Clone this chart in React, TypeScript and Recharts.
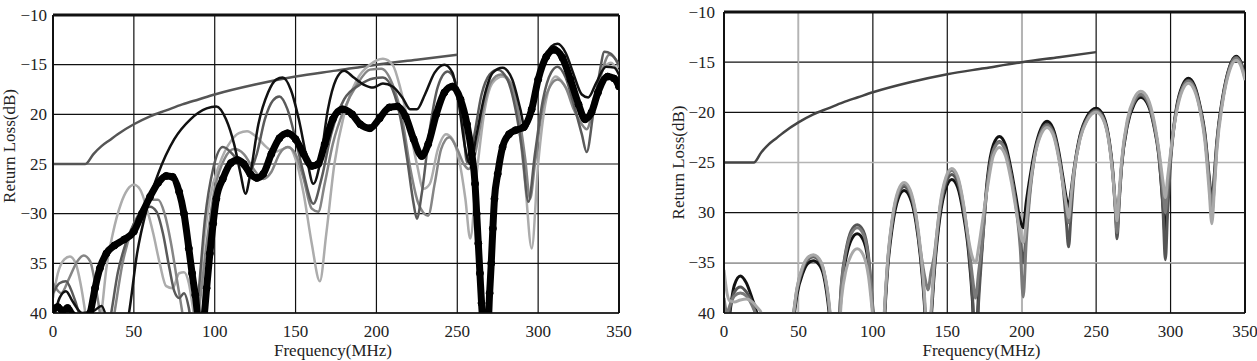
import { LineChart, Line, XAxis, YAxis, CartesianGrid, ReferenceLine, Label } from 'recharts';

type Pt = [number, number];

const freqTicks = [0, 50, 100, 150, 200, 250, 300, 350];
const lossTicks = [-40, -35, -30, -25, -20, -15, -10];
const leftLossLabels = ['40', '35', '−30', '25', '20', '−15', '−10'];
const rightLossLabels = ['40', '−35', '30', '−25', '−20', '−15', '−10'];

// limit line, same in both panels
const limitLine: Pt[] = [
  [0, -25], [20, -25], [25, -24], [30, -23.2], [35, -22.6], [40, -22], [50, -21], [60, -20.2],
  [70, -19.6], [80, -19], [90, -18.5], [100, -18], [125, -17], [150, -16.2], [175, -15.6],
  [200, -15], [225, -14.5], [250, -14],
];

// left panel
const leftThick: Pt[] = [
  [0, -39.6], [3, -39.4], [6, -39.8], [9, -39.5], [12, -40.2], [16, -41], [20, -41], [23, -40],
  [26, -37.5], [29, -35.5], [33, -34], [38, -33.2], [44, -32.6], [50, -31.8], [55, -30], [60, -28.3],
  [65, -26.9], [70, -26.2], [74, -26.3], [78, -27.8], [81, -30], [84, -33.5], [86, -36], [88, -38.2],
  [90, -40.5], [93, -40.5], [95, -37.5], [97, -34], [99, -31], [101, -28.5], [105, -26.5], [110, -24.9],
  [114, -24.6], [118, -25], [122, -26], [126, -26.4], [130, -26], [135, -24], [140, -22.4], [145, -21.9],
  [150, -22.5], [155, -24], [160, -25.2], [164, -25], [168, -23], [173, -20.5], [179, -19.5], [185, -20],
  [190, -21], [196, -21.4], [202, -20.4], [208, -19.3], [213, -19.2], [218, -20.2], [223, -22.5], [228, -24.2],
  [232, -23], [237, -20], [242, -17.8], [247, -17.2], [252, -18.5], [256, -21], [259, -24], [261, -27],
  [262, -30], [263, -33], [264, -36], [265, -39], [266, -41], [269, -41], [270, -38], [271, -35],
  [272, -31.5], [273, -28.5], [275, -26], [278, -23.3], [282, -22], [286, -21.6], [291, -21.3], [296, -19.5],
  [300, -16.5], [305, -14.2], [310, -13.5], [315, -14.3], [320, -16.5], [325, -19], [329, -20.5], [333, -19.8],
  [337, -17.8], [343, -16.2], [347, -16.4], [350, -17.2],
];

const leftBlack: Pt[] = [
  [0, -41], [4, -38.5], [8, -37.8], [12, -38.8], [18, -40], [25, -39.8], [30, -39.3], [34, -41],
  [40, -45], [47, -40], [52, -34], [58, -29.5], [65, -26], [75, -22.5], [85, -20.5], [95, -19.4],
  [101, -19.2], [107, -20.5], [112, -23], [116, -26], [119, -28], [122, -26], [127, -21], [133, -17.8],
  [138, -16.5], [142, -16.3], [147, -17.5], [152, -20.5], [157, -24.5], [161, -27], [165, -25], [170, -19.5],
  [175, -16.5], [180, -15.6], [186, -16.3], [192, -17], [198, -17.3], [204, -16.9], [210, -17.2], [216, -18.3],
  [221, -19.5], [225, -19.5], [230, -18], [236, -15.8], [242, -15], [247, -15.8], [251, -19], [255, -23.5],
  [258, -25], [262, -22], [267, -18], [272, -15.8], [278, -15.3], [284, -16.5], [289, -19.5], [292, -21.5],
  [297, -19], [303, -15], [308, -13.2], [312, -12.9], [317, -13.8], [322, -16], [327, -18], [331, -18.3],
  [336, -16.8], [342, -15.2], [347, -15.3], [350, -16],
];

const leftDark: Pt[] = [
  [0, -38], [4, -37], [8, -36.8], [12, -38], [16, -40], [20, -43], [28, -46], [36, -40], [40, -36],
  [45, -33], [50, -31], [55, -29.8], [60, -29.3], [64, -29.8], [68, -32], [72, -35.5], [75, -37.8],
  [78, -38.5], [81, -38], [84, -39.5], [87, -43], [90, -38], [94, -30.5], [99, -25.5], [105, -23.3],
  [111, -24], [116, -25], [121, -25.8], [126, -24], [131, -20.5], [136, -18.6], [140, -18.2], [145, -19.5],
  [150, -22.5], [155, -26], [161, -29], [166, -26.5], [172, -22], [180, -18.5], [190, -17], [198, -16.4],
  [204, -16.3], [210, -17.5], [215, -20.5], [219, -24.5], [223, -29], [225, -30.5], [228, -28], [233, -21.5],
  [238, -17.2], [244, -15.7], [249, -16.8], [253, -20], [256, -24.8], [260, -22.5], [265, -18], [270, -16],
  [275, -15.5], [281, -16.5], [286, -19.5], [290, -23.5], [294, -28.8], [298, -24], [303, -18.5], [308, -15.8],
  [312, -15.2], [317, -16.3], [322, -19], [327, -22], [330, -23.8], [334, -20], [338, -15.8], [341, -13.7],
  [345, -13.9], [350, -15],
];

const leftMid: Pt[] = [
  [0, -37], [5, -38], [10, -36.5], [15, -34.8], [19, -34.2], [23, -34.8], [26, -37], [29, -40], [33, -45],
  [38, -40], [43, -35], [49, -31.5], [55, -29.5], [61, -28.6], [65, -28.6], [69, -30], [73, -33], [77, -37],
  [80, -40], [84, -45], [90, -40], [95, -33], [100, -27.5], [106, -24.5], [112, -23.5], [118, -24],
  [124, -25.5], [130, -26.5], [135, -25.8], [140, -24], [145, -23.3], [150, -24], [155, -26.5], [160, -29.5],
  [164, -29.8], [168, -27], [173, -23], [180, -19.5], [188, -17], [196, -15.5], [203, -15.4], [210, -17],
  [216, -20.5], [221, -25.5], [226, -29], [232, -30.2], [236, -27], [240, -23.5], [245, -22.3], [250, -23.5],
  [254, -25], [257, -25.5], [261, -24], [266, -19.5], [271, -16.7], [277, -16], [283, -16.8], [288, -20],
  [292, -24.5], [295, -28.5], [298, -25], [302, -20], [307, -17.3], [312, -16.5], [317, -17.3], [322, -19.5],
  [327, -21], [330, -21.5], [334, -19.5], [339, -16], [344, -14], [348, -14.5], [350, -15.3],
];

const leftLight: Pt[] = [
  [0, -38.5], [3, -36], [7, -34.6], [10.5, -34.3], [14, -35], [17, -37], [20, -40], [24, -45], [30, -40],
  [33, -35.5], [37, -32], [42, -29], [46, -27.6], [50, -27.1], [54, -27.6], [58, -29.5], [62, -32],
  [66, -35], [70, -37.3], [74, -37.5], [78, -36], [81, -35.9], [84, -37], [87, -40], [89, -42], [92, -35],
  [97, -28.5], [103, -25], [110, -22.7], [115, -21.9], [120, -21.7], [126, -22.3], [132, -23.3], [137, -23.8],
  [142, -23.5], [146, -23.3], [150, -24.5], [155, -28], [160, -33], [165, -36.8], [169, -32], [174, -25],
  [180, -20], [188, -16.5], [196, -15], [204, -14.4], [210, -15], [215, -17.5], [220, -21], [225, -25],
  [229, -27.5], [233, -27], [238, -23.5], [243, -22], [247, -22.5], [251, -24.5], [255, -28.5], [258, -32.5],
  [262, -26], [267, -19.5], [272, -16.8], [278, -16.2], [284, -17.5], [288, -21], [292, -27], [296, -33.5],
  [300, -25], [305, -18.5], [311, -16.2], [316, -17], [321, -18.5], [326, -20], [330, -20.5], [335, -18],
  [340, -15.5], [345, -14.8], [350, -15.8],
];

// right panel, one frequency grid shared by the four traces
const rightFreq = [
  0, 2, 4, 7, 11, 15, 19, 22, 25, 29,
  46, 49, 53, 56, 60, 64, 67, 71, 74,
  76, 79, 82, 85.5, 89.5, 93.5, 97, 100, 103, 105,
  107, 110, 113, 117, 121, 125, 129, 132, 135, 137,
  139, 141, 145, 149, 153, 157, 161, 164, 167, 169,
  171, 173, 177, 181, 185, 189, 193, 196, 199, 201,
  203, 205, 209, 213, 217, 221, 225, 227.5, 230, 231.5,
  233, 235, 239, 244, 250, 255, 259, 261, 263, 264,
  265.5, 267, 271, 275.5, 280, 285, 289, 292, 295, 296.5,
  298, 300, 304, 308, 312, 316, 320, 323, 326, 327.7,
  329.5, 331, 335, 339.5, 344, 347, 350,
];

const rightBlack = [
  -41, -43, -40, -37.2, -36.3, -37, -38.6, -40, -43, -50,
  -41.5, -38.2, -36, -35.1, -34.8, -35.2, -36.3, -40.5, -46,
  -45, -37.5, -34.5, -32.7, -32.1, -32.7, -35, -40, -46, -50,
  -43, -35.5, -31.5, -28.6, -27.8, -28.5, -31, -34.5, -40, -46,
  -41, -36.5, -30.5, -27.6, -26.7, -27.5, -30.3, -33.5, -39, -45,
  -38, -34, -26.5, -23.2, -22.4, -23.2, -25.8, -28.3, -30.8, -31.5,
  -29, -27, -23.6, -21.6, -20.9, -21.6, -24, -26.3, -28.6, -29.5,
  -28, -25.8, -22.4, -20.4, -19.6, -20.4, -23, -25.5, -29.5, -31.6,
  -28.5, -25.5, -21.3, -19.2, -18.5, -19.3, -21.5, -24.2, -29.5, -32.5,
  -28.5, -24.5, -19.5, -17.3, -16.6, -17.3, -19.5, -22, -26.5, -28.8,
  -26, -23, -18.5, -15.5, -14.4, -14.9, -16.4,
];

const rightDark = [
  -39, -41, -39.5, -37.9, -37.4, -37.9, -39, -40.5, -43, -50,
  -41, -37.8, -35.6, -34.7, -34.4, -34.8, -35.9, -40, -46,
  -44, -36.8, -33.7, -31.8, -31.2, -31.8, -34.2, -39.5, -46, -50,
  -42.5, -35, -31, -28.2, -27.4, -28.1, -30.6, -34, -39.5, -45,
  -40.5, -36, -30, -27.1, -26.2, -27, -29.8, -33, -38.5, -45,
  -39, -34.5, -27, -23.7, -22.9, -23.7, -26.3, -29, -32.5, -35,
  -32, -28.5, -24, -21.9, -21.2, -21.9, -24.4, -27, -31, -33.4,
  -30.5, -26.5, -22.6, -20.6, -19.8, -20.6, -23.2, -25.8, -30, -32.6,
  -29, -25.6, -21.1, -19, -18.3, -19.1, -21.3, -24, -30, -34.7,
  -30, -25, -19.7, -17.5, -16.8, -17.5, -19.7, -22.3, -27, -30,
  -27, -23.5, -18.7, -15.6, -14.5, -15, -16.5,
];

const rightGrey = [
  -38.5, -40, -39.2, -38.3, -38, -38.3, -39.3, -40.5, -43, -50,
  -40.8, -37.6, -35.4, -34.6, -34.3, -34.7, -35.8, -39.8, -46,
  -44, -37, -33.9, -32.1, -31.5, -32.1, -34.5, -39.7, -46, -50,
  -42.5, -34.8, -30.8, -28, -27.2, -27.9, -30.4, -33.8, -36.5, -37.7,
  -36, -34.5, -29.6, -26.7, -25.8, -26.6, -29.4, -32.6, -36.5, -38.5,
  -36, -33.5, -27.1, -23.8, -23, -23.8, -26.4, -29.2, -33.5, -38.4,
  -33, -29, -24.1, -22, -21.3, -22, -24.5, -26.8, -29.5, -31,
  -29, -26.2, -22.7, -20.7, -19.9, -20.7, -23.3, -25.9, -29.8, -32,
  -28.7, -25.4, -21, -18.9, -18.2, -19, -21.2, -23.9, -28, -30,
  -27.5, -24.3, -19.8, -17.6, -16.9, -17.6, -19.8, -22.4, -27, -29.5,
  -26.5, -23.3, -18.8, -15.7, -14.6, -15.1, -16.6,
];

const rightLight = [
  -35.7, -38, -38.8, -38.9, -38.7, -38.6, -38.9, -39.4, -40, -45,
  -40.6, -37.5, -35.3, -34.5, -34.2, -34.6, -35.7, -39.6, -46,
  -45, -38.5, -35.7, -34.2, -33.6, -34.2, -36.3, -40.5, -46, -50,
  -42, -34.6, -30.6, -27.8, -27, -27.7, -30.2, -33.6, -39, -45,
  -40, -35.5, -29.4, -26.5, -25.6, -26.4, -29.2, -32.4, -34.5, -35,
  -33.5, -31.5, -27.5, -24.3, -23.5, -24.3, -26.9, -29.5, -32, -33,
  -31, -28, -24.2, -22.2, -21.5, -22.2, -24.7, -27, -29.3, -30.5,
  -28.5, -26, -22.8, -20.8, -20, -20.8, -23.4, -26, -29.3, -30.8,
  -28, -25, -20.7, -18.6, -17.9, -18.7, -20.9, -23.6, -27, -28.5,
  -26.5, -24, -20, -17.8, -17.1, -17.8, -20, -22.8, -28, -31.1,
  -27.5, -24, -19, -15.9, -14.8, -15.3, -16.8,
];

const FONT = "'Liberation Serif', 'Times New Roman', serif";

const toRows = (pts: Pt[]) => pts.map(([f, v]) => ({ f, v }));

const rightRows = rightFreq.map((f, i) => ({
  f,
  black: rightBlack[i],
  dark: rightDark[i],
  grey: rightGrey[i],
  light: rightLight[i],
}));

function YTick({ x, y, payload, labels }: any) {
  const idx = lossTicks.indexOf(payload.value);
  return (
    <text x={x} y={y} textAnchor="end" dominantBaseline="central" fontFamily={FONT} fontSize={17} fill="#222">
      {labels[idx]}
    </text>
  );
}

function XTick({ x, y, payload }: any) {
  return (
    <text x={x} y={y} dy="0.71em" textAnchor="middle" fontFamily={FONT} fontSize={17} fill="#222">
      {payload.value}
    </text>
  );
}

function YTitle({ viewBox, dx, dy }: any) {
  const cx = viewBox.x + dx;
  const cy = viewBox.y + viewBox.height / 2 + dy;
  return (
    <text x={cx} y={cy} transform={`rotate(-90 ${cx} ${cy})`} textAnchor="middle" dominantBaseline="central"
      fontFamily={FONT} fontSize={17} fill="#222">
      Return Loss(dB)
    </text>
  );
}

function XTitle({ viewBox }: any) {
  return (
    <text x={viewBox.x + viewBox.width / 2 - 3} y={viewBox.y + 37} textAnchor="middle" dominantBaseline="central"
      fontFamily={FONT} fontSize={17} fill="#222">
      Frequency(MHz)
    </text>
  );
}

export default function App() {
  return (
    <div style={{ position: 'absolute', left: 0, top: 0, width: 1257, height: 361, background: '#fff' }}>
      <div style={{ position: 'absolute', left: 0, top: 0 }}>
        <LineChart width={632} height={361} margin={{ top: 15, right: 13, bottom: 0, left: 0 }}>
          <CartesianGrid stroke="#111" strokeWidth={1.2} />
          <XAxis type="number" dataKey="f" domain={[0, 350]} ticks={freqTicks} allowDataOverflow
            height={48} tickSize={0} tickMargin={12} tick={<XTick />} axisLine={{ stroke: '#111', strokeWidth: 1.5 }}>
            <Label content={(p: any) => <XTitle {...p} />} />
          </XAxis>
          <YAxis type="number" domain={[-40, -10]} ticks={lossTicks} allowDataOverflow width={53}
            tickSize={0} tickMargin={6} tick={<YTick labels={leftLossLabels} />} axisLine={{ stroke: '#111', strokeWidth: 2 }}>
            <Label content={(p: any) => <YTitle {...p} dx={9} dy={-18} />} />
          </YAxis>
          <ReferenceLine y={-10} stroke="#111" strokeWidth={3} />
          <ReferenceLine x={350} stroke="#111" strokeWidth={2} />
          <Line data={toRows(limitLine)} dataKey="v" type="monotone" stroke="#555" strokeWidth={2.5} dot={false} isAnimationActive={false} />
          <Line data={toRows(leftLight)} dataKey="v" type="monotone" stroke="#acacac" strokeWidth={2.5} dot={false} isAnimationActive={false} />
          <Line data={toRows(leftMid)} dataKey="v" type="monotone" stroke="#858585" strokeWidth={2.5} dot={false} isAnimationActive={false} />
          <Line data={toRows(leftDark)} dataKey="v" type="monotone" stroke="#5a5a5a" strokeWidth={2.5} dot={false} isAnimationActive={false} />
          <Line data={toRows(leftBlack)} dataKey="v" type="monotone" stroke="#111" strokeWidth={2.5} dot={false} isAnimationActive={false} />
          <Line data={toRows(leftThick)} dataKey="v" type="monotone" stroke="#000" strokeWidth={7}
            dot={{ r: 3.5, fill: '#000', stroke: '#000', strokeWidth: 1 }} isAnimationActive={false} />
        </LineChart>
      </div>
      <div style={{ position: 'absolute', left: 640, top: 0 }}>
        <LineChart width={617} height={361} margin={{ top: 12, right: 12, bottom: 0, left: 0 }}>
          <CartesianGrid stroke="#111" strokeWidth={1.2} />
          <XAxis type="number" dataKey="f" domain={[0, 350]} ticks={freqTicks} allowDataOverflow
            height={48} tickSize={0} tickMargin={12} tick={<XTick />} axisLine={{ stroke: '#111', strokeWidth: 1.5 }}>
            <Label content={(p: any) => <XTitle {...p} />} />
          </XAxis>
          <YAxis type="number" domain={[-40, -10]} ticks={lossTicks} allowDataOverflow width={84}
            tickSize={0} tickMargin={9} tick={<YTick labels={rightLossLabels} />} axisLine={{ stroke: '#111', strokeWidth: 2 }}>
            <Label content={(p: any) => <YTitle {...p} dx={38} dy={0} />} />
          </YAxis>
          <ReferenceLine x={50} stroke="#b4b4b4" strokeWidth={1.5} />
          <ReferenceLine x={200} stroke="#b4b4b4" strokeWidth={1.5} />
          <ReferenceLine y={-25} stroke="#b4b4b4" strokeWidth={1.5} />
          <ReferenceLine y={-35} stroke="#b4b4b4" strokeWidth={1.5} />
          <ReferenceLine y={-10} stroke="#111" strokeWidth={3} />
          <ReferenceLine x={350} stroke="#111" strokeWidth={2} />
          <Line data={toRows(limitLine)} dataKey="v" type="monotone" stroke="#444" strokeWidth={2.5} dot={false} isAnimationActive={false} />
          <Line data={rightRows} dataKey="black" type="monotone" stroke="#111" strokeWidth={3} dot={false} isAnimationActive={false} />
          <Line data={rightRows} dataKey="dark" type="monotone" stroke="#555" strokeWidth={3} dot={false} isAnimationActive={false} />
          <Line data={rightRows} dataKey="grey" type="monotone" stroke="#7a7a7a" strokeWidth={3} dot={false} isAnimationActive={false} />
          <Line data={rightRows} dataKey="light" type="monotone" stroke="#a8a8a8" strokeWidth={3} dot={false} isAnimationActive={false} />
        </LineChart>
      </div>
    </div>
  );
}
